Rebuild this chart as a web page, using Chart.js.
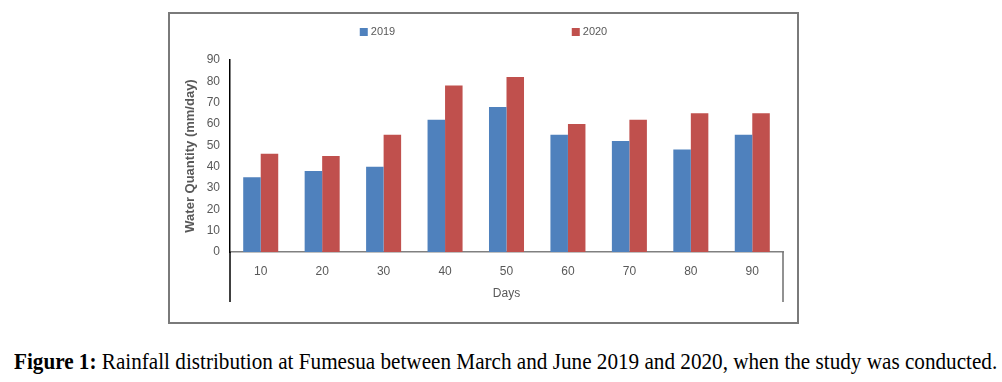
<!DOCTYPE html>
<html>
<head>
<meta charset="utf-8">
<script src="https://cdn.jsdelivr.net/npm/chart.js@4.4.1/dist/chart.umd.min.js"></script>
<style>
  body { margin: 0; background: #fff; width: 1002px; height: 382px; position: relative; overflow: hidden; }
  #frame { position: absolute; left: 168px; top: 12px; width: 627px; height: 308px; border: 2px solid #7a7a7a; }
  #caption { position: absolute; left: 14px; top: 349px; font-family: "Liberation Serif", serif; font-size: 23px; color: #000; white-space: nowrap; transform-origin: 0 0; }
</style>
</head>
<body>
<div id="frame"><canvas id="barChart" width="627" height="308"></canvas></div>
<div id="caption"><b>Figure 1:</b> Rainfall distribution at Fumesua between March and June 2019 and 2020, when the study was conducted.</div>
<script>
// chart data
const days = ["10", "20", "30", "40", "50", "60", "70", "80", "90"];
const rain2019 = [35, 38, 40, 62, 68, 55, 52, 48, 55];
const rain2020 = [46, 45, 55, 78, 82, 60, 62, 65, 65];
const yTicks = [0, 10, 20, 30, 40, 50, 60, 70, 80, 90];

const textGrey = "#595959";
const axisFont = { family: "Liberation Sans", size: 12 };

// Excel style legend, items spread wide apart
const topLegend = {
  id: "topLegend",
  afterDraw(chart) {
    const ctx = chart.ctx;
    const sets = chart.data.datasets;
    const mid = chart.width / 2;
    ctx.save();
    ctx.font = "11px Liberation Sans";
    ctx.textBaseline = "middle";
    sets.forEach((ds, i) => {
      const cx = mid + (i - (sets.length - 1) / 2) * 212;
      const w = 8 + 3 + ctx.measureText(ds.label).width;
      const x0 = cx - w / 2;
      ctx.fillStyle = ds.backgroundColor;
      ctx.fillRect(x0, 14, 8, 8);
      ctx.fillStyle = textGrey;
      ctx.fillText(ds.label, x0 + 11, 18);
    });
    ctx.restore();
  },
};

// lines below the category axis at both ends
const axisEnds = {
  id: "axisEnds",
  afterDraw(chart) {
    const { ctx, chartArea } = chart;
    ctx.save();
    ctx.lineWidth = 1.5;
    ctx.strokeStyle = "#000";
    ctx.beginPath();
    ctx.moveTo(chartArea.left, chartArea.bottom);
    ctx.lineTo(chartArea.left, chartArea.bottom + 50);
    ctx.stroke();
    ctx.strokeStyle = "#6e6e6e";
    ctx.beginPath();
    ctx.moveTo(chartArea.right, chartArea.bottom);
    ctx.lineTo(chartArea.right, chartArea.bottom + 50);
    ctx.stroke();
    ctx.restore();
  },
};

const ctx = document.getElementById("barChart").getContext("2d");
new Chart(ctx, {
  type: "bar",
  data: {
    labels: days,
    datasets: [
      { label: "2019", data: rain2019, backgroundColor: "#4F81BD" },
      { label: "2020", data: rain2020, backgroundColor: "#C0504D" },
    ],
  },
  options: {
    responsive: false,
    animation: false,
    layout: { padding: { top: 46, right: 14, left: 0, bottom: 0 } },
    datasets: { bar: { categoryPercentage: 0.57, barPercentage: 1.0 } },
    plugins: { legend: { display: false }, tooltip: { enabled: false } },
    scales: {
      x: {
        grid: { display: false, drawTicks: false },
        border: { color: "#808080", width: 1.5 },
        ticks: { color: textGrey, font: axisFont, padding: 12 },
        title: { display: true, text: "Days", color: textGrey, font: axisFont, padding: { top: 0, bottom: 21 } },
        afterFit(scale) { scale.height = 70; },
      },
      y: {
        min: 0,
        max: 90,
        grid: { display: false, drawTicks: false },
        border: { color: "#000", width: 1.5 },
        afterBuildTicks(scale) { scale.ticks = yTicks.map((v) => ({ value: v })); },
        ticks: { color: textGrey, font: axisFont, padding: 10 },
        title: {
          display: true,
          text: "Water Quantity (mm/day)",
          color: textGrey,
          font: { family: "Liberation Sans", size: 13, weight: "bold" },
          padding: { top: 13, bottom: 0 },
        },
        afterFit(scale) { scale.width = 60; },
      },
    },
  },
  plugins: [topLegend, axisEnds],
});

// squeeze caption to the width it has in the figure
const cap = document.getElementById("caption");
cap.style.transform = "scaleX(" + (983 / cap.scrollWidth) + ")";
</script>
</body>
</html>
